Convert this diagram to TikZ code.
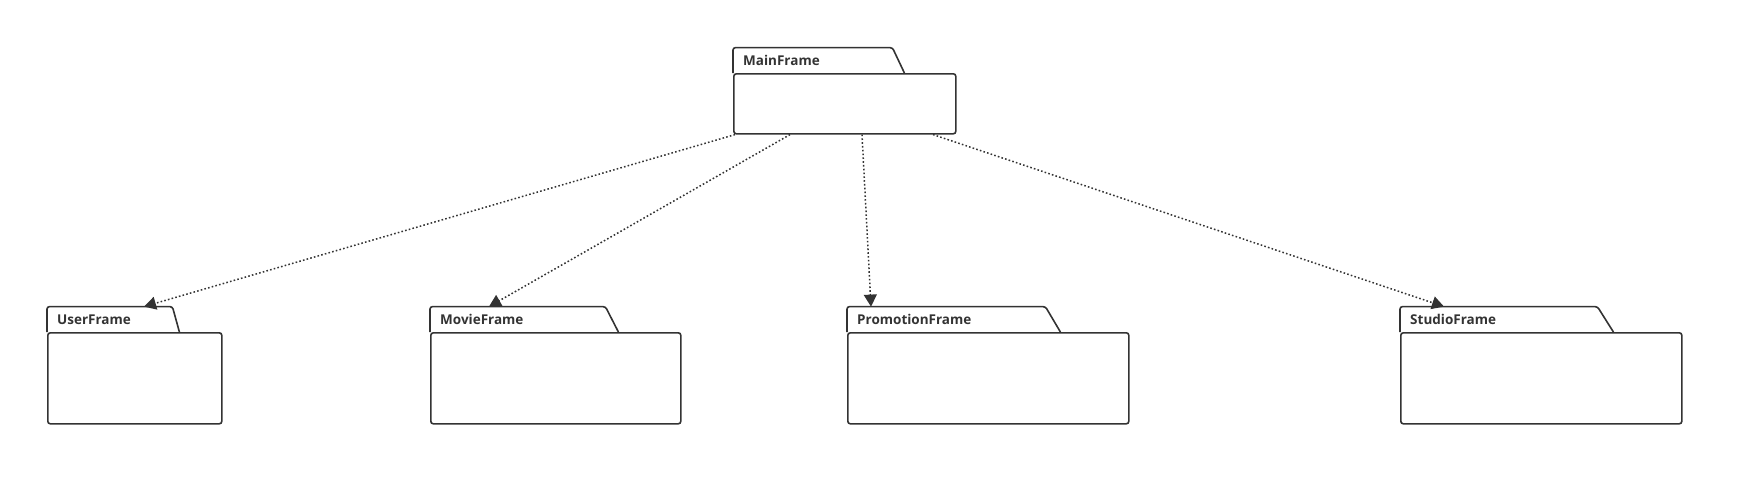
\documentclass[tikz,border=0pt]{standalone}
\usepackage{fontspec}
\setmainfont{Open Sans}
\usetikzlibrary{positioning,arrows.meta}
\definecolor{ink}{HTML}{333333}
\tikzstyle{pkgbody} = [rectangle, rounded corners=2.5pt, draw=ink, line width=1.6pt, anchor=north west, inner sep=0pt, minimum height=91pt]
\tikzstyle{pkgtab} = [rectangle, anchor=south west, minimum height=25pt, inner xsep=10pt, inner ysep=0pt, text=ink, font=\bfseries\fontsize{13.5}{15}\selectfont, align=left]
\tikzstyle{tabline} = [draw=ink, line width=1.6pt, rounded corners=2.5pt]
\tikzstyle{arrow} = [ink, line width=1.5pt, dash pattern=on 1.6pt off 2.2pt, -{Triangle[length=12pt,width=13pt]}]

\begin{document}
\begin{tikzpicture}[x=1pt, y=-1pt]
      \useasboundingbox (0,0) rectangle (1742,485);
      % packages
      \node (main)[pkgbody, minimum width=222pt, minimum height=60pt] at (733,73) {};
      \node (user)[pkgbody, minimum width=174pt] at (47,332) {};
      \node (movie)[pkgbody, minimum width=250pt] at (430,332) {};
      \node (promo)[pkgbody, minimum width=281pt] at (847,332) {};
      \node (studio)[pkgbody, minimum width=281pt] at (1400,332) {};
      % tabs
      \node (maintab)[pkgtab, text width=139pt] at (main.north west) {MainFrame};
      \node (usertab)[pkgtab, text width=105pt] at (user.north west) {UserFrame};
      \node (movietab)[pkgtab, text width=155pt] at (movie.north west) {MovieFrame};
      \node (promotab)[pkgtab, text width=178pt] at (promo.north west) {PromotionFrame};
      \node (studiotab)[pkgtab, text width=177pt] at (studio.north west) {StudioFrame};
      \foreach \t/\s in {maintab/12,usertab/7,movietab/13,promotab/15,studiotab/16}
        \draw [tabline] (\t.south west) -- (\t.north west) -- (\t.north east) -- ([xshift=\s pt]\t.south east);
      % dependencies
      \draw [arrow] ([xshift=2pt]main.south west) -- ([xshift=97pt]usertab.north west);
      \draw [arrow] ([xshift=57pt]main.south west) -- ([xshift=59pt]movietab.north west);
      \draw [arrow] ([xshift=129pt]main.south west) -- ([xshift=24pt]promotab.north west);
      \draw [arrow] ([xshift=200pt]main.south west) -- ([xshift=44pt]studiotab.north west);
    \end{tikzpicture}
\end{document}
